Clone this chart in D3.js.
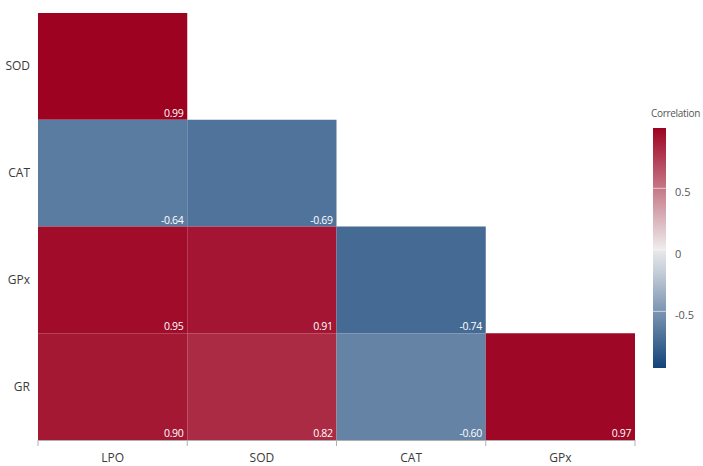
<!DOCTYPE html>
<html>
<head>
<meta charset="utf-8">
<script src="https://cdn.jsdelivr.net/npm/d3@7"></script>
<style>
  body { margin: 0; background: #fff; }
  text { font-family: "Open Sans", "Noto Sans", sans-serif; }
</style>
</head>
<body>
<svg id="chart"></svg>
<script>
const w = 703;
const h = 466;

// correlation matrix (lower triangle)
const xLabels = ['LPO', 'SOD', 'CAT', 'GPx'];
const yLabels = ['SOD', 'CAT', 'GPx', 'GR'];
const rowSOD = [0.99];
const rowCAT = [-0.64, -0.69];
const rowGPx = [0.95, 0.91, -0.74];
const rowGR = [0.90, 0.82, -0.60, 0.97];
const legendTicks = [-0.5, 0, 0.5];
const legendRange = [-0.96, 0.99];

const rows = [rowSOD, rowCAT, rowGPx, rowGR];

// flatten into cells
let cells = [];
rows.forEach((vals, i) => {
    vals.forEach((v, j) => {
        cells.push({ row: yLabels[i], col: xLabels[j], value: v });
    });
});

const plot = { left: 38, right: 635, top: 13, bottom: 440 };

const svg = d3.select('#chart')
    .attr('width', w)
    .attr('height', h);

const x = d3.scaleBand()
    .domain(xLabels)
    .range([plot.left, plot.right]);

const y = d3.scaleBand()
    .domain(yLabels)
    .range([plot.top, plot.bottom]);

//diverging colour scale, navy - white - dark red
const color = d3.scaleLinear()
    .domain([-1, 0, 1])
    .range(['#093c75', '#eeeeee', '#9c001f'])
    .interpolate(d3.interpolateRgb);

//cells
svg.selectAll('rect.cell')
    .data(cells)
    .enter()
    .append('rect')
        .attr('class', 'cell')
        .attr('x', d => x(d.col))
        .attr('y', d => y(d.row))
        .attr('width', x.bandwidth())
        .attr('height', y.bandwidth())
        .attr('fill', d => color(d.value));

//value labels in bottom right corner
svg.selectAll('text.val')
    .data(cells)
    .enter()
    .append('text')
        .attr('class', 'val')
        .attr('x', d => x(d.col) + x.bandwidth() - 4)
        .attr('y', d => y(d.row) + y.bandwidth() - 3)
        .attr('text-anchor', 'end')
        .attr('fill', '#fff')
        .style('font-size', '10.5px')
        .style('letter-spacing', '-0.4px')
        .text(d => d.value.toFixed(2));

//bottom axis
const xAxis = svg.append('g')
    .attr('transform', `translate(0,${plot.bottom})`);
xAxis.append('line')
    .attr('x1', plot.left).attr('x2', plot.right)
    .attr('y1', 0.5).attr('y2', 0.5)
    .attr('stroke', '#b0b0b0');
const edges = xLabels.map(d => x(d)).concat([plot.right]);
xAxis.selectAll('line.tick')
    .data(edges)
    .enter()
    .append('line')
        .attr('class', 'tick')
        .attr('x1', d => d).attr('x2', d => d)
        .attr('y1', 0).attr('y2', 6)
        .attr('stroke', '#b0b0b0');
xAxis.selectAll('text')
    .data(xLabels)
    .enter()
    .append('text')
        .attr('x', d => x(d) + x.bandwidth() / 2)
        .attr('y', 22)
        .attr('text-anchor', 'middle')
        .attr('fill', '#3a3a3a')
        .style('font-size', '12px')
        .text(d => d);

//left labels
svg.append('g')
    .selectAll('text')
    .data(yLabels)
    .enter()
    .append('text')
        .attr('x', 30)
        .attr('y', d => y(d) + y.bandwidth() / 2 + 4)
        .attr('text-anchor', 'end')
        .attr('fill', '#3a3a3a')
        .style('font-size', '12px')
        .text(d => d);

//colour legend
const lg = { x: 653, w: 13, top: 128, bottom: 368 };
const ly = d3.scaleLinear()
    .domain(legendRange)
    .range([lg.bottom, lg.top]);

const grad = svg.append('defs').append('linearGradient')
    .attr('id', 'grad')
    .attr('x1', 0).attr('x2', 0).attr('y1', 1).attr('y2', 0);
d3.range(0, 1.001, 0.1).forEach(t => {
    const v = legendRange[0] + t * (legendRange[1] - legendRange[0]);
    grad.append('stop')
        .attr('offset', t)
        .attr('stop-color', color(v));
});

svg.append('rect')
    .attr('x', lg.x)
    .attr('y', lg.top)
    .attr('width', lg.w)
    .attr('height', lg.bottom - lg.top)
    .attr('fill', 'url(#grad)');

svg.selectAll('line.ltick')
    .data(legendTicks)
    .enter()
    .append('line')
        .attr('class', 'ltick')
        .attr('x1', lg.x).attr('x2', lg.x + lg.w)
        .attr('y1', d => ly(d)).attr('y2', d => ly(d))
        .attr('stroke', '#fff')
        .attr('stroke-opacity', 0.6);

svg.selectAll('text.ltick')
    .data(legendTicks)
    .enter()
    .append('text')
        .attr('class', 'ltick')
        .attr('x', 675)
        .attr('y', d => ly(d) + 8)
        .attr('fill', '#555')
        .style('font-size', '11px')
        .text(d => d);

svg.append('text')
    .attr('x', 651)
    .attr('y', 117)
    .attr('fill', '#555')
    .style('font-size', '10px')
    .style('letter-spacing', '-0.3px')
    .text('Correlation');
</script>
</body>
</html>
